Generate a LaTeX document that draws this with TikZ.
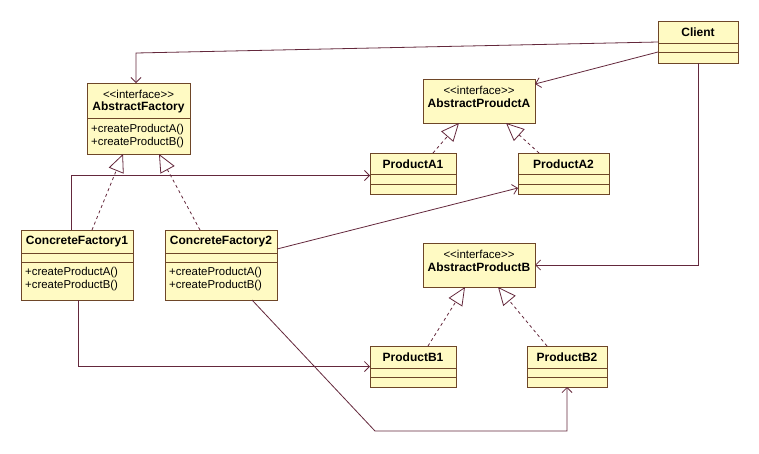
\documentclass[tikz,border=0pt]{standalone}
\usepackage{fontspec}
\setmainfont{Liberation Sans}
\usetikzlibrary{arrows.meta,calc}
\definecolor{boxfill}{RGB}{255,250,195}
\definecolor{boxline}{RGB}{110,70,40}
\definecolor{conn}{RGB}{100,40,60}
\newcommand{\umlbox}[5]{%
  \node[box, minimum width={(#4)-(#2)}, minimum height={(#5)-(#3)}] (#1) at ({((#2)+(#4))/2},{((#3)+(#5))/2}) {};}
\newcommand{\umlsep}[2]{\draw[boxline, line width=0.8pt] (#1.west |- 0,#2) -- (#1.east |- 0,#2);}
\newcommand{\stereo}{<\kern0pt<interface>\kern0pt>}
\tikzset{
  box/.style={draw=boxline, fill=boxfill, line width=0.9pt, inner sep=0pt, outer sep=0pt},
  title/.style={font=\fontsize{12}{13}\selectfont\bfseries, inner sep=0pt},
  stereotype/.style={font=\fontsize{11.5}{13}\selectfont, inner sep=0pt},
  method/.style={font=\fontsize{11.4}{13}\selectfont, inner sep=0pt, anchor=west},
  assoc/.style={draw=conn, line width=0.8pt, -{Straight Barb[length=5pt,width=10pt]}},
  realize/.style={draw=conn, line width=0.8pt, dashed, dash pattern=on 3pt off 3pt, -{Triangle[open, length=18pt, width=16pt]}}
}
\begin{document}
\begin{tikzpicture}[x=1pt,y=-1pt]
\useasboundingbox[fill=white] (0,0) rectangle (759,453);

% boxes
\umlbox{af}{87}{83}{190}{154}
\umlsep{af}{118}
\node[stereotype] (af-s) at (138.5,94) {\stereo};
\node[title] (af-t) at (138.5,107) {AbstractFactory};
\node[method] (af-m1) at (91,130) {+createProductA()};
\node[method] (af-m2) at (91,143) {+createProductB()};

\umlbox{client}{658}{21}{738}{63}
\umlsep{client}{43}
\umlsep{client}{52}
\node[title] (client-t) at (698,32) {Client};

\umlbox{apa}{423}{79}{535}{123}
\node[stereotype] (apa-s) at (479,90) {\stereo};
\node[title] (apa-t) at (479,103) {AbstractProudctA};

\umlbox{pa1}{370}{153}{456}{194}
\umlsep{pa1}{174}
\umlsep{pa1}{184}
\node[title] (pa1-t) at (413,164) {ProductA1};

\umlbox{pa2}{518}{153}{609}{194}
\umlsep{pa2}{174}
\umlsep{pa2}{184}
\node[title] (pa2-t) at (563.5,164) {ProductA2};

\umlbox{apb}{423}{243}{535}{287}
\node[stereotype] (apb-s) at (479,254) {\stereo};
\node[title] (apb-t) at (479,267) {AbstractProductB};

\umlbox{pb1}{370}{346}{456}{387}
\umlsep{pb1}{368}
\umlsep{pb1}{377}
\node[title] (pb1-t) at (413,357) {ProductB1};

\umlbox{pb2}{527}{346}{607}{387}
\umlsep{pb2}{368}
\umlsep{pb2}{377}
\node[title] (pb2-t) at (567,357) {ProductB2};

\umlbox{cf1}{21}{230}{133}{300}
\umlsep{cf1}{253}
\umlsep{cf1}{262}
\node[title] (cf1-t) at (77,242) {ConcreteFactory1};
\node[method] (cf1-m1) at (25,273) {+createProductA()};
\node[method] (cf1-m2) at (25,286) {+createProductB()};

\umlbox{cf2}{165}{230}{277}{300}
\umlsep{cf2}{253}
\umlsep{cf2}{262}
\node[title] (cf2-t) at (221,242) {ConcreteFactory2};
\node[method] (cf2-m1) at (169,273) {+createProductA()};
\node[method] (cf2-m2) at (169,286) {+createProductB()};

% associations
\coordinate (c1) at (136,53);
\draw[assoc] (client.west) -- (c1) -- (c1 |- af.north);
\draw[assoc] ($(client.west)+(0,10)$) -- ($(apa.north east)+(0,5)$);
\draw[assoc] (client.south) |- (apb.east);
\draw[assoc] ($(cf1.north west)+(50,0)$) |- ($(pa1.west)+(0,2)$);
\draw[assoc] ($(cf2.north east)+(0,19)$) -- ($(pa2.south west)+(0,-6)$);
\draw[assoc] ($(cf1.south west)+(57,0)$) |- (pb1.west);
\coordinate (c2) at (375,431);
\draw[assoc] ($(cf2.south west)+(87,0)$) -- (c2) -| (pb2.south);

% realizations
\draw[realize] ($(cf1.north west)+(71,0)$) -- ($(af.south west)+(36,0)$);
\draw[realize] ($(cf2.north west)+(35,0)$) -- ($(af.south west)+(72,0)$);
\draw[realize] ($(pa1.north west)+(63,0)$) -- ($(apa.south west)+(36,0)$);
\draw[realize] ($(pa2.north west)+(21,0)$) -- ($(apa.south west)+(83,0)$);
\draw[realize] ($(pb1.north west)+(58,0)$) -- ($(apb.south west)+(42,0)$);
\draw[realize] ($(pb2.north west)+(20,0)$) -- ($(apb.south west)+(75,0)$);
\end{tikzpicture}
\end{document}
